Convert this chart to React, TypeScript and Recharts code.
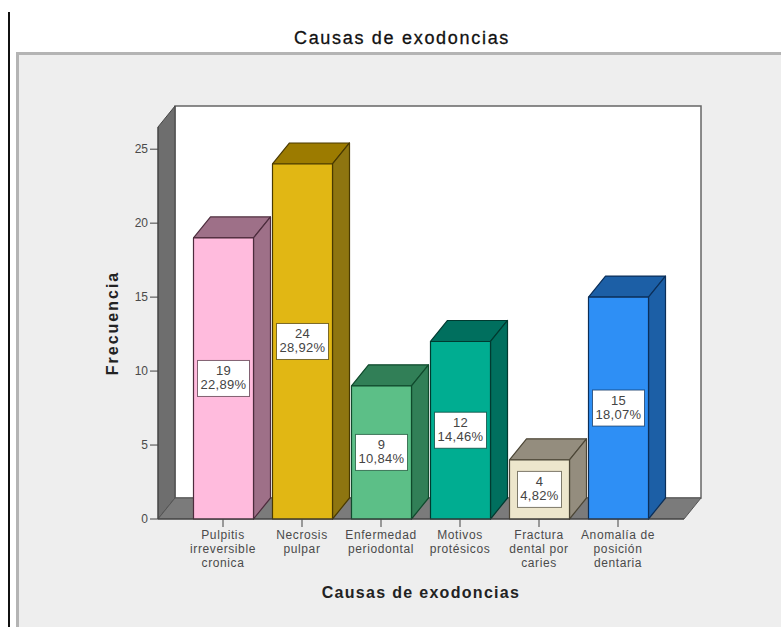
import { BarChart, Bar, XAxis, YAxis, LabelList, usePlotArea } from 'recharts'

const categories = [
  'Pulpitis|irreversible|cronica',
  'Necrosis|pulpar',
  'Enfermedad|periodontal',
  'Motivos|protésicos',
  'Fractura|dental por|caries',
  'Anomalía de|posición|dentaria',
]
const frequencies = [19, 24, 9, 12, 4, 15]
const percents = ['22,89%', '28,92%', '10,84%', '14,46%', '4,82%', '18,07%']
const yTicks = [0, 5, 10, 15, 20, 25]

// front, top face, side face, outline per bar
const FRONT = ['#ffbbdd', '#e1b714', '#5cbf87', '#00ad91', '#ede6cc', '#2e8ff5']
const TOP = ['#9e7088', '#9c7b00', '#317f57', '#006f5e', '#948d7e', '#1c5fa6']
const SIDE = ['#9e7088', '#8e7510', '#317f57', '#006f5e', '#948d7e', '#1c5fa6']
const EDGE = ['#4d2c3d', '#4a3a00', '#0f4a2c', '#003a30', '#4c4636', '#0b2f59']

const DX = 17
const DY = 21
const FONT = '"Liberation Sans", Arial, sans-serif'

const data = categories.map((name, i) => ({ name, value: frequencies[i], percent: percents[i] }))

function Walls() {
  const plot = usePlotArea()
  if (!plot) return null
  const { x, y, width, height } = plot
  const bottom = y + height
  const right = x + width
  return (
    <g>
      <rect x={x + DX} y={y - DY} width={width} height={height} fill="#ffffff" stroke="#666666" strokeWidth={1.5} />
      <polygon
        points={`${x},${y} ${x + DX},${y - DY} ${x + DX},${bottom - DY} ${x},${bottom}`}
        fill="#6e6e6e"
        stroke="#444444"
      />
      <polygon
        points={`${x},${bottom} ${x + DX},${bottom - DY} ${right + DX},${bottom - DY} ${right},${bottom}`}
        fill="#7b7b7b"
        stroke="#555555"
      />
    </g>
  )
}

function Bar3D(props: any) {
  const { x, y, width, height, index } = props
  const r = x + width
  const b = y + height
  return (
    <g stroke={EDGE[index]} strokeWidth={1.2} strokeLinejoin="round">
      <polygon points={`${x},${y} ${x + DX},${y - DY} ${r + DX},${y - DY} ${r},${y}`} fill={TOP[index]} />
      <polygon points={`${r},${y} ${r + DX},${y - DY} ${r + DX},${b - DY} ${r},${b}`} fill={SIDE[index]} />
      <rect x={x} y={y} width={width} height={height} fill={FRONT[index]} />
    </g>
  )
}

function ValueBox(props: any) {
  const { x, y, width, height, index } = props
  const w = percents[index].length > 5 ? 52 : 44
  const cx = x + width / 2
  const cy = y + height / 2
  return (
    <g fontFamily={FONT} fontSize={13} fill="#444444" textAnchor="middle" letterSpacing={0.3}>
      <rect x={cx - w / 2} y={cy - 18} width={w} height={36} fill="#ffffff" stroke={EDGE[index]} strokeOpacity={0.7} />
      <text x={cx} y={cy - 3}>{frequencies[index]}</text>
      <text x={cx} y={cy + 11}>{percents[index]}</text>
    </g>
  )
}

function CategoryTick(props: any) {
  const { x, y, payload } = props
  const lines = String(payload.value).split('|')
  return (
    <text x={x} y={y} textAnchor="middle" fontFamily={FONT} fontSize={12} fill="#4a4a4a" letterSpacing={0.6}>
      {lines.map((line: string, i: number) => (
        <tspan key={line} x={x} dy={i === 0 ? 10 : 14}>{line}</tspan>
      ))}
    </text>
  )
}

export default function App() {
  return (
    <div style={{ position: 'absolute', left: 0, top: 0, width: 781, height: 627, overflow: 'hidden', background: '#ffffff' }}>
      <div style={{ position: 'absolute', left: 8, top: 12, width: 2, height: 615, background: '#111111' }} />
      <div
        style={{
          position: 'absolute',
          left: 16,
          top: 52,
          width: 765,
          height: 575,
          boxSizing: 'border-box',
          background: '#eeeeee',
          borderTop: '3px solid #b4b4b4',
          borderLeft: '3px solid #b4b4b4',
        }}
      />
      <div style={{ position: 'absolute', left: 0, top: 0 }}>
        <BarChart
          width={781}
          height={627}
          data={data}
          margin={{ top: 127, right: 97, bottom: 0, left: 0 }}
          barSize={60}
        >
          <Walls />
          <XAxis
            dataKey="name"
            interval={0}
            padding={{ left: 25.5, right: 26.5 }}
            tick={<CategoryTick />}
            tickSize={8}
            tickLine={{ stroke: '#444444' }}
            axisLine={{ stroke: '#3a3a3a' }}
            height={108}
          />
          <YAxis
            domain={[0, 26.5]}
            ticks={yTicks}
            width={158}
            interval={0}
            tickSize={8}
            tick={{ fontFamily: FONT, fontSize: 12, fill: '#4a4a4a' }}
            tickLine={{ stroke: '#444444' }}
            axisLine={{ stroke: '#444444' }}
          />
          <Bar dataKey="value" isAnimationActive={false} shape={<Bar3D />}>
            <LabelList dataKey="value" content={<ValueBox />} />
          </Bar>
          <text x={402} y={44} textAnchor="middle" fontFamily={FONT} fontSize={18} fill="#111111" stroke="#111111" strokeWidth={0.3} letterSpacing={1.7}>
            Causas de exodoncias
          </text>
          <text x={421} y={598} textAnchor="middle" fontFamily={FONT} fontSize={16} fontWeight="bold" fill="#222222" letterSpacing={1.3}>
            Causas de exodoncias
          </text>
          <text
            x={118}
            y={323}
            textAnchor="middle"
            transform="rotate(-90 118 323)"
            fontFamily={FONT}
            fontSize={16}
            fontWeight="bold"
            fill="#222222"
            letterSpacing={2}
          >
            Frecuencia
          </text>
        </BarChart>
      </div>
    </div>
  )
}
